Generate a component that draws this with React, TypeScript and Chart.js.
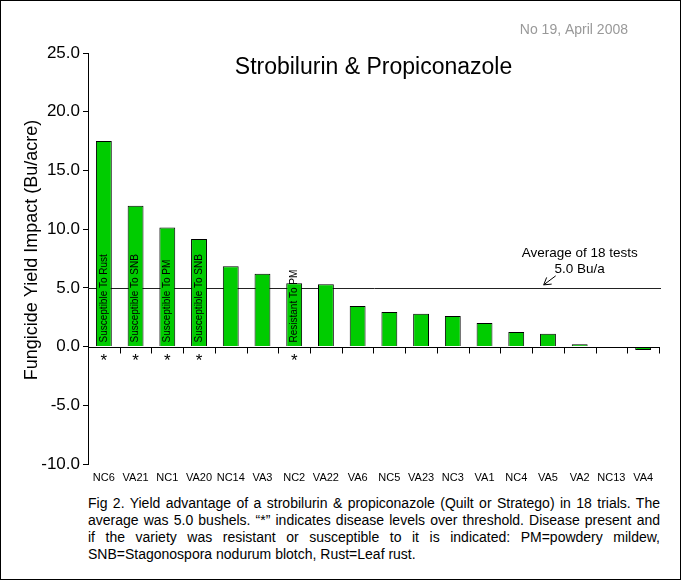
import React, { useEffect, useRef } from "react";
import { Chart, registerables } from "chart.js";

Chart.register(...registerables);

const FONT = '"Liberation Sans", Arial, Helvetica, sans-serif';

const categories = ["NC6", "VA21", "NC1", "VA20", "NC14", "VA3", "NC2", "VA22", "VA6", "NC5", "VA23", "NC3", "VA1", "NC4", "VA5", "VA2", "NC13", "VA4"];
const yieldImpact = [17.5, 12.0, 10.15, 9.15, 6.85, 6.2, 5.4, 5.3, 3.45, 2.95, 2.8, 2.6, 2.0, 1.25, 1.1, 0.2, 0, -0.3];
const barNotes = ["Susceptible To Rust", "Susceptible To SNB", "Susceptible To PM", "Susceptible To SNB", "", "", "Resistant To PM", "", "", "", "", "", "", "", "", "", "", ""];
const overThreshold = [true, true, true, true, false, false, true, false, false, false, false, false, false, false, false, false, false, false];
const averageValue = 5.0;
const averageLabels = ["Average of 18 tests", "5.0 Bu/a"];
const averageLabelIndex = 15;
const yMin = -10;
const yMax = 25;
const yStep = 5;
const titleText = "Strobilurin & Propiconazole";
const issueText = "No 19, April 2008";
const yAxisTitle = "Fungicide Yield Impact (Bu/acre)";
const captionLines = [
  "Fig 2. Yield advantage of a strobilurin & propiconazole (Quilt or Stratego) in 18 trials. The",
  "average was 5.0 bushels. \u201C*\u201D indicates disease levels over threshold. Disease present and",
  "if the variety was resistant or susceptible to it is indicated: PM=powdery mildew,",
  "SNB=Stagonospora nodurum blotch, Rust=Leaf rust.",
];

const overlayPlugin = {
  id: "overlay",
  beforeDatasetsDraw(chart: any) {
    const { ctx, chartArea, scales } = chart;
    const y = Math.round(scales.y.getPixelForValue(averageValue)) + 0.5;
    ctx.save();
    ctx.strokeStyle = "#222";
    ctx.lineWidth = 1;
    ctx.beginPath();
    ctx.moveTo(chartArea.left, y);
    ctx.lineTo(chartArea.right + 2, y);
    ctx.stroke();
    ctx.restore();
  },
  afterDatasetsDraw(chart: any) {
    const { ctx, chartArea, scales } = chart;
    const xs = scales.x;
    const ys = scales.y;
    const y0 = Math.round(ys.getPixelForValue(0)) + 0.5;
    const half = (xs.getPixelForValue(1) - xs.getPixelForValue(0)) / 2;
    ctx.save();
    // zero axis line with category ticks
    ctx.strokeStyle = "#000";
    ctx.lineWidth = 1;
    ctx.beginPath();
    ctx.moveTo(chartArea.left, y0);
    ctx.lineTo(chartArea.right + 1, y0);
    for (let i = 0; i < categories.length; i++) {
      const x = Math.round(xs.getPixelForValue(i) + half) + 0.5;
      ctx.moveTo(x, y0);
      ctx.lineTo(x, y0 + 6);
    }
    ctx.stroke();

    // notes inside bars
    ctx.fillStyle = "#000";
    ctx.font = `10px ${FONT}`;
    ctx.textAlign = "left";
    ctx.textBaseline = "middle";
    barNotes.forEach((note, i) => {
      if (!note) return;
      const x = xs.getPixelForValue(i);
      ctx.save();
      ctx.translate(x, y0 - 5);
      ctx.rotate(-Math.PI / 2);
      ctx.fillText(note, 0, 0);
      ctx.restore();
    });

    // asterisks
    ctx.font = `17px ${FONT}`;
    ctx.textAlign = "center";
    ctx.textBaseline = "middle";
    overThreshold.forEach((flag, i) => {
      if (!flag) return;
      ctx.fillText("*", xs.getPixelForValue(i), y0 + 14);
    });

    // average annotation
    const yAvg = ys.getPixelForValue(averageValue);
    const xa = xs.getPixelForValue(averageLabelIndex);
    ctx.font = `13.5px ${FONT}`;
    ctx.fillText(averageLabels[0], xa, yAvg - 35);
    ctx.fillText(averageLabels[1], xa, yAvg - 18.5);
    const tx = xa - 36, ty = yAvg - 3;
    const sx = xa - 24, sy = yAvg - 12;
    const ang = Math.atan2(sy - ty, sx - tx);
    const hl = 8, ha = 0.55;
    ctx.beginPath();
    ctx.moveTo(sx, sy);
    ctx.lineTo(tx, ty);
    ctx.moveTo(tx + hl * Math.cos(ang + ha), ty + hl * Math.sin(ang + ha));
    ctx.lineTo(tx, ty);
    ctx.lineTo(tx + hl * Math.cos(ang - ha), ty + hl * Math.sin(ang - ha));
    ctx.stroke();

    // title
    ctx.font = `23px ${FONT}`;
    ctx.fillText(titleText, (chartArea.left + chartArea.right) / 2, 67);

    // issue text
    ctx.fillStyle = "#999";
    ctx.font = `14px ${FONT}`;
    ctx.textAlign = "right";
    ctx.fillText(issueText, 627, 29);

    // y axis title
    ctx.fillStyle = "#000";
    ctx.font = `18px ${FONT}`;
    ctx.textAlign = "center";
    ctx.save();
    ctx.translate(31, 249);
    ctx.rotate(-Math.PI / 2);
    ctx.fillText(yAxisTitle, 0, 0);
    ctx.restore();

    ctx.restore();
  },
};

export default function App() {
  const ref = useRef<HTMLCanvasElement>(null);
  useEffect(() => {
    document.body.style.margin = "0";
    Chart.defaults.font.family = FONT;
    const chart = new Chart(ref.current as HTMLCanvasElement, {
      type: "bar",
      data: {
        labels: categories,
        datasets: [
          {
            data: yieldImpact,
            backgroundColor: "#00CC00",
            borderColor: "#000",
            borderWidth: 1,
            barPercentage: 0.5,
            categoryPercentage: 1,
          },
        ],
      },
      options: {
        responsive: false,
        animation: false,
        layout: { padding: { left: 0, right: 21, top: 52, bottom: 0 } },
        plugins: { legend: { display: false }, tooltip: { enabled: false }, title: { display: false } },
        scales: {
          x: {
            position: "bottom",
            grid: { display: false, drawTicks: false },
            border: { display: false },
            ticks: { color: "#000", font: { size: 11, family: FONT }, padding: 7, autoSkip: false, maxRotation: 0 },
            afterFit: (s: any) => {
              s.height = 27;
            },
          },
          y: {
            min: yMin,
            max: yMax,
            grid: { display: true, drawOnChartArea: false, drawTicks: true, tickLength: 5, color: "#000", lineWidth: 1 },
            border: { display: true, color: "#000", width: 1 },
            ticks: {
              stepSize: yStep,
              color: "#000",
              font: { size: 17, family: FONT },
              padding: 3,
              callback: (v: any) => Number(v).toFixed(1),
            },
            afterFit: (s: any) => {
              s.width = 87;
            },
          },
        },
      },
      plugins: [overlayPlugin],
    } as any);
    return () => chart.destroy();
  }, []);

  return (
    <div
      style={{
        position: "relative",
        width: 681,
        height: 580,
        boxSizing: "border-box",
        border: "1px solid #000",
        background: "#fff",
        overflow: "hidden",
      }}
    >
      <canvas ref={ref} width={679} height={490} style={{ position: "absolute", left: 0, top: 0 }} />
      <div
        style={{
          position: "absolute",
          left: 87,
          top: 494,
          width: 572,
          fontFamily: FONT,
          fontSize: 14,
          lineHeight: "17px",
          color: "#000",
        }}
      >
        {captionLines.map((line, i) => (
          <div
            key={i}
            style={{
              whiteSpace: "nowrap",
              textAlign: i < captionLines.length - 1 ? "justify" : "left",
              textAlignLast: i < captionLines.length - 1 ? "justify" : "left",
              whiteSpace: i < captionLines.length - 1 ? "normal" : "nowrap",
            } as any}
          >
            {line}
          </div>
        ))}
      </div>
    </div>
  );
}
